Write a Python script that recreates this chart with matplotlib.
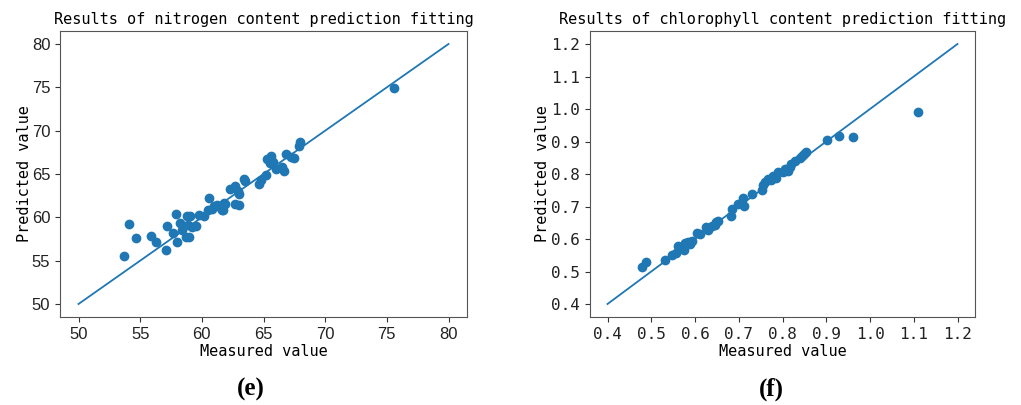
import matplotlib
matplotlib.use("Agg")
from matplotlib import pyplot as plt

# --- (e) nitrogen content: measured vs predicted -----------------------------
n_measured = [53.7, 54.1, 54.7, 55.9, 56.3, 57.1, 57.2, 57.9, 57.7, 57.95,
              58.2, 58.4, 58.8, 59.0, 58.7, 58.95, 58.9, 59.2, 59.5, 59.8,
              60.2, 60.6, 60.5, 60.85, 61.2, 61.5, 61.7, 61.8, 61.6, 62.3,
              62.65, 62.9, 63.0, 62.7, 63.0, 63.4, 63.5, 64.6, 64.8, 65.2,
              65.3, 65.6, 65.5, 65.8, 66.0, 66.65, 66.5, 66.8, 67.2, 67.5,
              67.95, 67.9, 75.6, 61.0, 61.9]
n_predicted = [55.5, 59.2, 57.6, 57.8, 57.2, 56.2, 59.0, 60.4, 58.2, 57.1,
               59.3, 58.5, 60.15, 60.15, 57.7, 57.7, 59.1, 58.9, 59.0, 60.3,
               60.1, 62.2, 60.85, 61.0, 61.4, 61.2, 60.9, 61.6, 60.85, 63.3,
               63.6, 63.05, 62.7, 61.5, 61.4, 64.4, 64.2, 63.9, 64.3, 64.9,
               66.7, 67.05, 66.3, 66.4, 65.6, 65.4, 65.8, 67.35, 66.95, 66.8,
               68.7, 68.2, 74.95, 61.3, 61.5]

# --- (f) chlorophyll content: measured vs predicted --------------------------
c_measured = [0.479, 0.487, 0.532, 0.547, 0.557, 0.560, 0.575, 0.577, 0.585, 0.592,
              0.588, 0.605, 0.612, 0.624, 0.630, 0.639, 0.645, 0.648, 0.652, 0.682,
              0.685, 0.699, 0.710, 0.712, 0.731, 0.752, 0.756, 0.761, 0.767, 0.773,
              0.778, 0.784, 0.790, 0.801, 0.806, 0.812, 0.816, 0.820, 0.829, 0.841,
              0.844, 0.850, 0.854, 0.902, 0.929, 0.961, 1.110]
c_predicted = [0.513, 0.529, 0.535, 0.550, 0.558, 0.577, 0.566, 0.587, 0.591, 0.594,
               0.584, 0.620, 0.615, 0.636, 0.628, 0.641, 0.643, 0.651, 0.656, 0.672,
               0.693, 0.708, 0.726, 0.703, 0.737, 0.750, 0.765, 0.774, 0.786, 0.781,
               0.795, 0.788, 0.805, 0.807, 0.815, 0.809, 0.823, 0.830, 0.840, 0.849,
               0.854, 0.861, 0.867, 0.906, 0.918, 0.913, 0.990]

n_ideal = [50, 80]
c_ideal = [0.4, 1.2]

n_ticks = [50, 55, 60, 65, 70, 75, 80]
c_ticks = [0.4, 0.5, 0.6, 0.7, 0.8, 0.9, 1.0, 1.1, 1.2]

W, H = 1021, 405
fig = plt.figure(figsize=(W / 100, H / 100), dpi=100)

mono = "DejaVu Sans Mono"

ax1 = fig.add_axes([60 / W, 88 / H, 407 / W, 286 / H])
ax2 = fig.add_axes([590 / W, 88 / H, 385 / W, 286 / H])

for ax, xm, yp, ideal, ticks, title, tickfont, ypad in [
    (ax1, n_measured, n_predicted, n_ideal, n_ticks,
     "Results of nitrogen content prediction fitting", "Liberation Sans", 0),
    (ax2, c_measured, c_predicted, c_ideal, c_ticks,
     "Results of chlorophyll content prediction fitting", mono, 1),
]:
    ax.scatter(xm, yp, color="#1f77b4", s=36, zorder=3)
    ax.plot(ideal, ideal, color="#1f77b4", lw=1.3)
    labels = [f"{t:g}" if isinstance(t, int) else f"{t:.1f}" for t in ticks]
    fs = 12 if tickfont != mono else 11.5
    ax.set_xticks(ticks)
    ax.set_yticks(ticks)
    ax.set_xticklabels(labels, family=tickfont, fontsize=fs)
    ax.set_yticklabels(labels, family=tickfont, fontsize=fs)
    ax.set_title(title, family=mono, fontsize=11, pad=5)
    ax.set_xlabel("Measured value", family=mono, fontsize=11, labelpad=2)
    ax.set_ylabel("Predicted value", family=mono, fontsize=11, labelpad=ypad)
    for sp in ax.spines.values():
        sp.set_color("#555555")
    ax.tick_params(colors="#333333", labelcolor="#222222", length=3.5)

fig.text(251 / W, 1 - 389 / H, "(e)", family="Liberation Serif", weight="bold",
         fontsize=18, ha="center", va="center")
fig.text(771 / W, 1 - 389 / H, "(f)", family="Liberation Serif", weight="bold",
         fontsize=18, ha="center", va="center")

fig.savefig("out.png", dpi=100)
